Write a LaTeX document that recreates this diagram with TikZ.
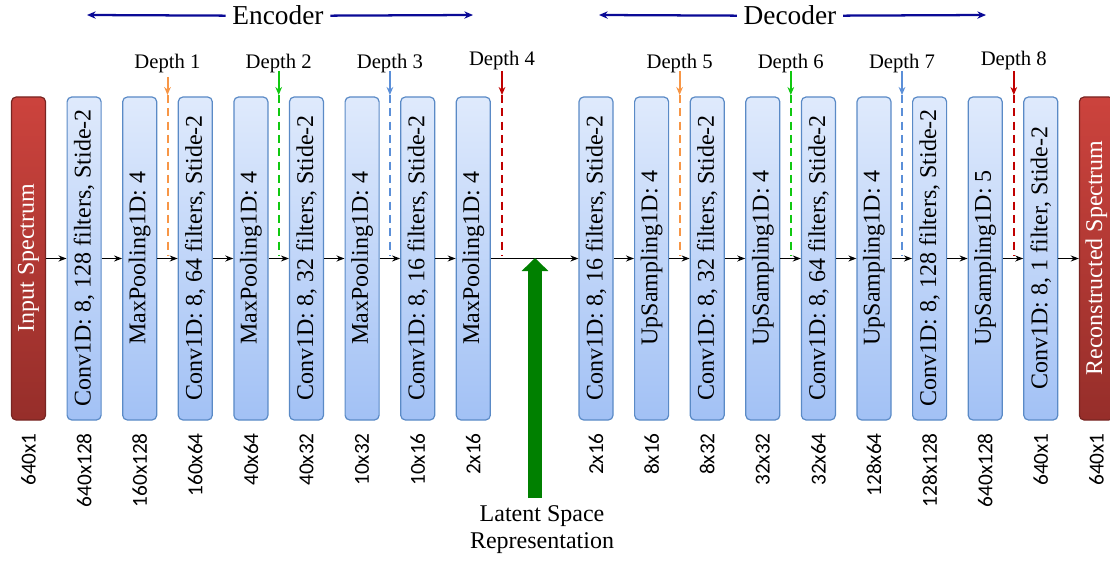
\documentclass[tikz,border=0pt]{standalone}
\usepackage{fontspec}
\setmainfont{Liberation Serif}
\newfontfamily\dimfont{Carlito}
\usetikzlibrary{arrows.meta}
\definecolor{boxtop}{HTML}{DFEAFC}
\definecolor{boxbot}{HTML}{A2C1F5}
\definecolor{boxdraw}{HTML}{5A8AC6}
\definecolor{redtop}{HTML}{CC433D}
\definecolor{redbot}{HTML}{962E2A}
\definecolor{dOrange}{HTML}{F79646}
\definecolor{dGreen}{HTML}{10C810}
\definecolor{dBlue}{HTML}{5B8FD8}
\definecolor{dRed}{HTML}{C00000}
\definecolor{navyc}{HTML}{0A0A96}
\definecolor{lgreen}{HTML}{008000}
\begin{document}
\begin{tikzpicture}[x=0.75pt,y=-0.75pt,
  box/.style={minimum width=25.5pt, minimum height=242.25pt, inner sep=0pt,
    rounded corners=3.5pt, draw=boxdraw, line width=0.9pt, top color=boxtop, bottom color=boxbot},
  iobox/.style={box, draw=redbot!80!black, top color=redtop, bottom color=redbot},
  ltext/.style={rotate=90, inner sep=0pt, font=\fontsize{18}{20}\selectfont},
  iotext/.style={ltext, text=white},
  dim/.style={rotate=90, anchor=east, inner sep=0pt, font=\dimfont\fontsize{16}{18}\selectfont},
  flow/.style={-{Stealth[length=6pt,width=4.5pt]}, line width=1.3pt},
  depthlbl/.style={inner sep=0pt, font=\fontsize{15.5}{17}\selectfont},
  title/.style={inner sep=5pt, anchor=base, font=\fontsize{20.5}{23}\selectfont},
  navyarrow/.style={draw=navyc, line width=1.7pt, -{Stealth[length=6.5pt,width=5.5pt]}}
]
\clip (0,0) rectangle (1110,563);
\useasboundingbox (0,0) rectangle (1110,563);

% layers
\node[iobox] (in) at (28.5,258.5) {};
\node[iotext] (int) at (28.5,258) {Input Spectrum};
\node[box] (c1) at (84.1,258.5) {};
\node[ltext] (c1t) at (84.1,258) {Conv1D: 8, 128 filters, Stide-2};
\node[box] (p1) at (139.7,258.5) {};
\node[ltext] (p1t) at (139.7,258) {MaxPooling1D: 4};
\node[box] (c2) at (195.3,258.5) {};
\node[ltext] (c2t) at (195.3,258) {Conv1D: 8, 64 filters, Stide-2};
\node[box] (p2) at (250.9,258.5) {};
\node[ltext] (p2t) at (250.9,258) {MaxPooling1D: 4};
\node[box] (c3) at (306.5,258.5) {};
\node[ltext] (c3t) at (306.5,258) {Conv1D: 8, 32 filters, Stide-2};
\node[box] (p3) at (362.1,258.5) {};
\node[ltext] (p3t) at (362.1,258) {MaxPooling1D: 4};
\node[box] (c4) at (417.7,258.5) {};
\node[ltext] (c4t) at (417.7,258) {Conv1D: 8, 16 filters, Stide-2};
\node[box] (p4) at (473.3,258.5) {};
\node[ltext] (p4t) at (473.3,258) {MaxPooling1D: 4};

\node[box] (e1) at (596,258.5) {};
\node[ltext] (e1t) at (596,258) {Conv1D: 8, 16 filters, Stide-2};
\node[box] (u1) at (651.6,258.5) {};
\node[ltext] (u1t) at (651.6,258) {UpSampling1D: 4};
\node[box] (e2) at (707.2,258.5) {};
\node[ltext] (e2t) at (707.2,258) {Conv1D: 8, 32 filters, Stide-2};
\node[box] (u2) at (762.8,258.5) {};
\node[ltext] (u2t) at (762.8,258) {UpSampling1D: 4};
\node[box] (e3) at (818.4,258.5) {};
\node[ltext] (e3t) at (818.4,258) {Conv1D: 8, 64 filters, Stide-2};
\node[box] (u3) at (874,258.5) {};
\node[ltext] (u3t) at (874,258) {UpSampling1D: 4};
\node[box] (e4) at (929.6,258.5) {};
\node[ltext] (e4t) at (929.6,258) {Conv1D: 8, 128 filters, Stide-2};
\node[box] (u4) at (985.2,258.5) {};
\node[ltext] (u4t) at (985.2,258) {UpSampling1D: 5};
\node[box] (e5) at (1040.8,258.5) {};
\node[ltext] (e5t) at (1040.8,258) {Conv1D: 8, 1 filter, Stide-2};
\node[iobox] (out) at (1096.4,258.5) {};
\node[iotext] (outt) at (1096.4,258) {Reconstructed Spectrum};

% flow connectors
\draw[flow] (in) -- (c1);
\draw[flow] (c1) -- (p1);
\draw[flow] (p1) -- (c2);
\draw[flow] (c2) -- (p2);
\draw[flow] (p2) -- (c3);
\draw[flow] (c3) -- (p3);
\draw[flow] (p3) -- (c4);
\draw[flow] (c4) -- (p4);
\draw[flow] (p4) -- (e1);
\draw[flow] (e1) -- (u1);
\draw[flow] (u1) -- (e2);
\draw[flow] (e2) -- (u2);
\draw[flow] (u2) -- (e3);
\draw[flow] (e3) -- (u3);
\draw[flow] (u3) -- (e4);
\draw[flow] (e4) -- (u4);
\draw[flow] (u4) -- (e5);
\draw[flow] (e5) -- (out);

% dimension labels
\node[dim] (l0) at (28.5,433) {640x1};
\node[dim] (l1) at (84.1,433) {640x128};
\node[dim] (l2) at (139.7,433) {160x128};
\node[dim] (l3) at (195.3,433) {160x64};
\node[dim] (l4) at (250.9,433) {40x64};
\node[dim] (l5) at (306.5,433) {40x32};
\node[dim] (l6) at (362.1,433) {10x32};
\node[dim] (l7) at (417.7,433) {10x16};
\node[dim] (l8) at (473.3,433) {2x16};
\node[dim] (l9) at (596,433) {2x16};
\node[dim] (l10) at (651.6,433) {8x16};
\node[dim] (l11) at (707.2,433) {8x32};
\node[dim] (l12) at (762.8,433) {32x32};
\node[dim] (l13) at (818.4,433) {32x64};
\node[dim] (l14) at (874,433) {128x64};
\node[dim] (l15) at (929.6,433) {128x128};
\node[dim] (l16) at (985.2,433) {640x128};
\node[dim] (l17) at (1040.8,433) {640x1};
\node[dim] (l18) at (1096.4,433) {640x1};

% depth markers
\foreach \x/\c/\n/\ly/\ys in {167.5/dOrange/1/64/77, 278.7/dGreen/2/64/71, 389.9/dBlue/3/64/71, 502/dRed/4/61/71,
  679.6/dOrange/5/64/71, 790.8/dGreen/6/64/71, 902/dBlue/7/64/71, 1013.8/dRed/8/61/71} {
  \node[depthlbl] (dl\n) at (\x,\ly) {Depth \n};
  \coordinate (ds\n) at (\x,\ys);
  \coordinate (dm\n) at (\x,95);
  \coordinate (de\n) at (\x,256);
  \draw[draw=\c, line width=1.5pt, -{Stealth[length=6pt,width=5pt]}] (ds\n) -- (dm\n);
  \draw[draw=\c, line width=1.5pt, dash pattern=on 6pt off 4pt] (dm\n) -- (de\n);
}

% encoder / decoder
\node[title] (enc) at (278,25) {Encoder};
\coordinate (encL) at (87,15);
\coordinate (encR) at (473,15);
\draw[navyarrow] (enc.west) -- (encL);
\draw[navyarrow] (enc.east) -- (encR);
\node[title] (dec) at (790,25) {Decoder};
\coordinate (decL) at (599,15);
\coordinate (decR) at (986,15);
\draw[navyarrow] (dec.west) -- (decL);
\draw[navyarrow] (dec.east) -- (decR);

% latent
\node[inner sep=0pt, align=center, font=\fontsize{18}{20.25}\selectfont] (lat) at (542,530) {Latent Space\\Representation};
\coordinate (gb) at (535,498);
\coordinate (gt) at (535,258);
\draw[draw=lgreen, line width=10.5pt, -{Triangle[length=9.75pt,width=19.5pt]}] (gb) -- (gt);
\end{tikzpicture}
\end{document}
